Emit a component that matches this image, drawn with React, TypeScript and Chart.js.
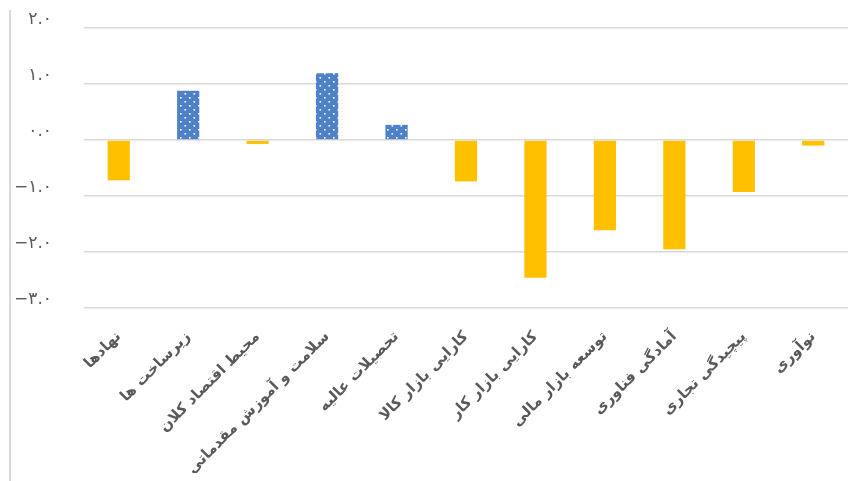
import React, { useEffect, useRef } from "react";
import { Chart, registerables } from "chart.js";

Chart.register(...registerables);

const categories: string[] = [
  "نهادها",
  "زیرساخت ها",
  "محیط اقتصاد کلان",
  "سلامت و آموزش مقدماتی",
  "تحصیلات عالیه",
  "کارایی بازار کالا",
  "کارایی بازار کار",
  "توسعه بازار مالی",
  "آماد\u200cگی فناوری",
  "پیچید\u200cگی تجاری",
  "نوآوری",
];

const values: number[] = [-0.72, 0.88, -0.07, 1.19, 0.27, -0.74, -2.46, -1.61, -1.95, -0.93, -0.1];

const yMin = -3;
const yMax = 2;
const yStep = 1;

const persianDigits = ["۰", "۱", "۲", "۳", "۴", "۵", "۶", "۷", "۸", "۹"];
function toPersian(v: number): string {
  const s = Math.abs(v).toFixed(1).replace(/[0-9]/g, (d) => persianDigits[+d]);
  return (v < 0 ? "\u2212" : "") + s;
}

function makeDotPattern(): CanvasPattern | string {
  const c = document.createElement("canvas");
  c.width = 9;
  c.height = 8;
  const ctx = c.getContext("2d");
  if (!ctx) return "#4F81C9";
  ctx.fillStyle = "#4F81C9";
  ctx.fillRect(0, 0, 9, 8);
  ctx.fillStyle = "#ffffff";
  ctx.fillRect(1, 1, 1.6, 1.6);
  ctx.fillRect(5.5, 5, 1.6, 1.6);
  const p = ctx.createPattern(c, "repeat");
  return p || "#4F81C9";
}

export default function App() {
  const ref = useRef<HTMLCanvasElement | null>(null);
  useEffect(() => {
    if (!ref.current) return;
    const pattern = makeDotPattern();
    const colors = values.map((v) => (v >= 0 ? pattern : "#FFC000"));
    const chart = new Chart(ref.current, {
      type: "bar",
      data: {
        labels: categories,
        datasets: [
          {
            data: values,
            backgroundColor: colors as any,
            borderWidth: 0,
            barPercentage: 0.32,
            categoryPercentage: 1,
          },
        ],
      },
      options: {
        animation: false,
        responsive: true,
        maintainAspectRatio: false,
        layout: { padding: { top: 20, left: 0, right: 8, bottom: 0 } },
        plugins: { legend: { display: false }, tooltip: { enabled: false } },
        scales: {
          x: {
            grid: { display: false },
            border: { display: false },
            afterFit: (scale: any) => {
              scale.paddingLeft = 0;
              scale.paddingRight = 0;
              scale.height = 173;
            },
            ticks: {
              autoSkip: false,
              maxRotation: 45,
              minRotation: 45,
              color: "#595959",
              padding: 12,
              font: { family: "DejaVu Sans", size: 15, weight: "bold" },
            },
          },
          y: {
            min: yMin,
            max: yMax,
            grid: { color: "#d9d9d9", lineWidth: 1.5, drawTicks: false },
            border: { display: false },
            afterFit: (scale: any) => {
              scale.width = 76;
              scale.paddingTop = 0;
              scale.paddingBottom = 0;
            },
            ticks: {
              stepSize: yStep,
              color: "#595959",
              padding: 32,
              labelOffset: -8,
              font: { family: "DejaVu Sans", size: 17 },
              callback: (v: any) => toPersian(Number(v)),
            },
          },
        },
      },
    });
    return () => chart.destroy();
  }, []);
  return (
    <div style={{ position: "relative", width: 848, height: 473, marginBottom: -8 }}>
      <div
        style={{
          position: "fixed",
          left: 9,
          top: 10,
          width: 1.5,
          height: 471,
          background: "#d9d9d9",
        }}
      />
      <canvas ref={ref} />
    </div>
  );
}
